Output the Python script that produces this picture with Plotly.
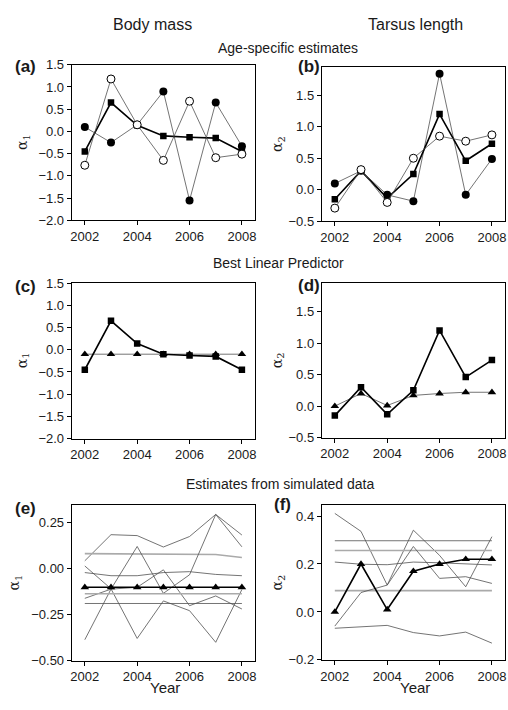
import plotly.graph_objects as go

W, H = 508, 710

years = [2002, 2003, 2004, 2005, 2006, 2007, 2008]
year_ticks = [2002, 2004, 2006, 2008]

# Age-specific estimates, body mass (alpha 1)
mass_age_a = [0.10, -0.25, 0.15, 0.90, -1.55, 0.65, -0.33]     # filled circles
mass_age_b = [-0.76, 1.18, 0.15, -0.65, 0.68, -0.59, -0.51]    # open circles
mass_mean = [-0.45, 0.65, 0.14, -0.10, -0.13, -0.15, -0.45]    # squares

# Age-specific estimates, tarsus length (alpha 2)
tarsus_age_a = [0.10, 0.30, -0.08, -0.18, 1.84, -0.08, 0.49]
tarsus_age_b = [-0.29, 0.32, -0.20, 0.50, 0.85, 0.77, 0.87]
tarsus_mean = [-0.15, 0.30, -0.13, 0.25, 1.20, 0.46, 0.73]

# Best linear predictors
mass_blp = [-0.10, -0.10, -0.10, -0.10, -0.10, -0.10, -0.10]
tarsus_blp = [0.00, 0.20, 0.01, 0.17, 0.20, 0.22, 0.22]

# Estimates from simulated data, body mass
mass_sim = [
    [0.044, 0.186, 0.181, 0.119, 0.176, 0.296, 0.184],
    [0.083, 0.082, 0.080, 0.078, 0.078, 0.078, 0.062],
    [0.016, -0.108, -0.378, -0.174, -0.227, -0.399, -0.112],
    [-0.020, -0.037, -0.037, -0.020, -0.015, -0.030, -0.037],
    [-0.385, -0.110, 0.122, -0.133, -0.032, 0.296, 0.120],
    [-0.160, -0.110, -0.100, -0.005, -0.200, -0.147, -0.218],
    [-0.135, -0.135, -0.135, -0.135, -0.135, -0.135, -0.135],
    [-0.188, -0.188, -0.188, -0.188, -0.188, -0.188, -0.188],
]
mass_sim_light = [False, True, False, False, False, False, True, False]

# Estimates from simulated data, tarsus length
tarsus_sim = [
    [0.411, 0.336, 0.112, 0.341, 0.236, 0.105, 0.314],
    [0.297, 0.297, 0.297, 0.297, 0.297, 0.297, 0.297],
    [0.256, 0.256, 0.256, 0.256, 0.256, 0.256, 0.256],
    [0.208, 0.199, 0.197, 0.208, 0.205, 0.200, 0.196],
    [0.089, 0.089, 0.089, 0.089, 0.089, 0.089, 0.089],
    [-0.059, 0.081, 0.112, 0.273, 0.140, 0.147, 0.119],
    [-0.068, -0.063, -0.056, -0.086, -0.100, -0.084, -0.130],
]
tarsus_sim_light = [False, False, True, False, True, False, False]

FONT = "Liberation Sans, Arial, sans-serif"
DARK = "#505050"
LIGHT = "#aaaaaa"


def px_x(px):
    return px / W


def px_y(py):
    return 1 - py / H


# panel boxes in pixels: (left, right, top, bottom)
boxes = {
    1: (71, 255, 59, 218),
    2: (322, 506, 61, 219),
    3: (71, 255, 282, 441),
    4: (322, 506, 282, 440),
    5: (71, 255, 509, 668),
    6: (322, 506, 509, 667),
}
yranges = {
    1: ([-2.0, 1.5], [-2.0, -1.5, -1.0, -0.5, 0.0, 0.5, 1.0, 1.5], ".1f"),
    2: ([-0.5, 1.95], [-0.5, 0.0, 0.5, 1.0, 1.5], ".1f"),
    3: ([-2.0, 1.5], [-2.0, -1.5, -1.0, -0.5, 0.0, 0.5, 1.0, 1.5], ".1f"),
    4: ([-0.5, 1.95], [-0.5, 0.0, 0.5, 1.0, 1.5], ".1f"),
    5: ([-0.5, 0.346], [-0.5, -0.25, 0.0, 0.25], ".2f"),
    6: ([-0.2, 0.445], [-0.2, 0.0, 0.2, 0.4], ".1f"),
}

fig = go.Figure()


def ax(i):
    return ("x" if i == 1 else f"x{i}"), ("y" if i == 1 else f"y{i}")


def line(i, y, color, width, symbol=None, size=7, fill=None):
    xa, ya = ax(i)
    kw = dict(x=years, y=y, xaxis=xa, yaxis=ya, showlegend=False,
              hoverinfo="skip", line=dict(color=color, width=width))
    if symbol:
        kw["mode"] = "lines+markers"
        kw["marker"] = dict(symbol=symbol, size=size,
                            color=fill if fill else "black",
                            line=dict(color="black", width=1 if fill else 0))
    else:
        kw["mode"] = "lines"
    fig.add_trace(go.Scatter(**kw))


# (a) and (b): age-specific estimates with their mean
for i, (ya_, yb_, ym_) in {1: (mass_age_a, mass_age_b, mass_mean),
                           2: (tarsus_age_a, tarsus_age_b, tarsus_mean)}.items():
    line(i, ya_, DARK, 0.8, "circle", 8)
    line(i, ym_, "black", 1.6, "square", 6.5)
    line(i, yb_, DARK, 0.8, "circle", 8, fill="white")

# (c) and (d): best linear predictor against the mean estimates
for i, (ym_, yp_) in {3: (mass_mean, mass_blp), 4: (tarsus_mean, tarsus_blp)}.items():
    line(i, yp_, DARK, 0.8, "triangle-up", 7.5)
    line(i, ym_, "black", 1.6, "square", 6.5)

# (e) and (f): simulated estimates with the predictor
for i, (sims, light, yp_) in {5: (mass_sim, mass_sim_light, mass_blp),
                              6: (tarsus_sim, tarsus_sim_light, tarsus_blp)}.items():
    for s, lt in zip(sims, light):
        line(i, s, LIGHT if lt else DARK, 1.6 if lt else 0.8)
    line(i, yp_, "black", 1.6, "triangle-up", 7.5)

layout = dict(width=W, height=H, margin=dict(l=0, r=0, t=0, b=0),
              paper_bgcolor="white", plot_bgcolor="white",
              font=dict(family=FONT, color="#1a1a1a"))

for i, (l, r, t, b) in boxes.items():
    xa, ya = ax(i)
    xkey = "xaxis" if i == 1 else f"xaxis{i}"
    ykey = "yaxis" if i == 1 else f"yaxis{i}"
    yr, yt, fmt = yranges[i]
    common = dict(showline=True, linecolor="black", linewidth=1, mirror=True,
                  ticks="outside", ticklen=4, tickwidth=1, tickcolor="black",
                  showgrid=False, zeroline=False,
                  tickfont=dict(family=FONT, size=13, color="#1a1a1a"))
    layout[xkey] = dict(domain=[px_x(l), px_x(r)], anchor=ya, range=[2001.5, 2008.5],
                        tickvals=year_ticks, **common)
    layout[ykey] = dict(domain=[px_y(b), px_y(t)], anchor=xa, range=yr,
                        tickvals=yt, tickformat=fmt, **common)

ann = []


def text(s, x, y, size, bold=False, angle=0, family=FONT, xanchor="center"):
    ann.append(dict(text=f"<b>{s}</b>" if bold else s, x=px_x(x), y=px_y(y),
                    xref="paper", yref="paper", showarrow=False, textangle=angle,
                    xanchor=xanchor, yanchor="middle",
                    font=dict(family=family, size=size, color="#1a1a1a")))


text("Body mass", 152, 18, 16)
text("Tarsus length", 416, 18, 16)
text("Age-specific estimates", 288, 42, 14)
text("Best Linear Predictor", 279, 262, 14)
text("Estimates from simulated data", 281, 487, 14)

for lab, x, y in [("(a)", 12, 61), ("(b)", 296, 61), ("(c)", 12, 286),
                  ("(d)", 296, 285), ("(e)", 12, 512), ("(f)", 272, 508)]:
    text(lab, x, y, 17, bold=True, xanchor="left")

SERIF = "DejaVu Serif, serif"
for s, x, y in [("α<sub>1</sub>", 22, 138), ("α<sub>2</sub>", 278, 140),
                ("α<sub>1</sub>", 22, 361), ("α<sub>2</sub>", 278, 361),
                ("α<sub>1</sub>", 14, 588), ("α<sub>2</sub>", 278, 588)]:
    text(s, x, y, 14, angle=-90, family=SERIF)

text("Year", 165, 695, 15)
text("Year", 416, 695, 15)

layout["annotations"] = ann
fig.update_layout(**layout)
fig.write_html("out.html")
